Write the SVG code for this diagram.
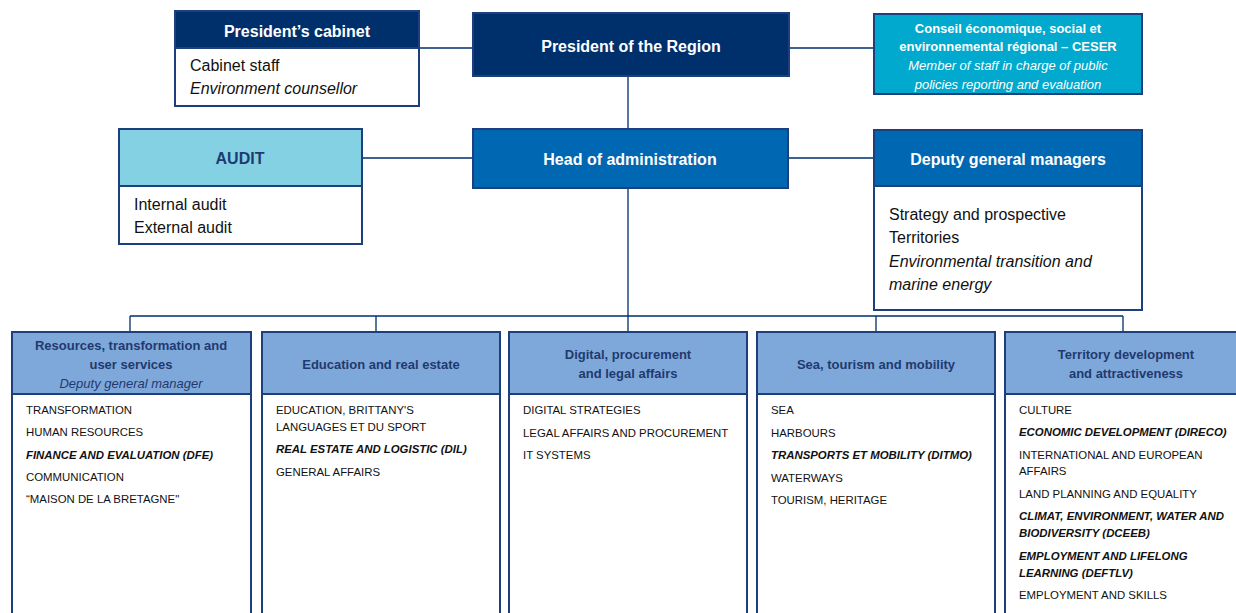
<svg xmlns="http://www.w3.org/2000/svg" width="1236" height="613" viewBox="0 0 1236 613">
<style>
text{font-family:"Liberation Sans",Arial,sans-serif}
.box{fill:#fff;stroke:#1d3f7c;stroke-width:2}
.hNavy{fill:#00306c;stroke:#1d3f7c;stroke-width:2}
.hBlue{fill:#0067b2;stroke:#1d3f7c;stroke-width:2}
.hAudit{fill:#84d1e4;stroke:#1d3f7c;stroke-width:2}
.hCeser{fill:#00a9cd;stroke:#1d3f7c;stroke-width:2}
.hDir{fill:#7fa8da;stroke:#1d3f7c;stroke-width:2}
.tW{fill:#fff;font-weight:bold;font-size:16px;text-anchor:middle}
.tNav{fill:#1f3a6e;font-weight:bold;font-size:16px;text-anchor:middle}
.tc{fill:#fff;font-size:13px;text-anchor:middle}
.b{font-weight:bold}
.i{font-style:italic}
.body{fill:#111;font-size:16px}
.dh{fill:#1f3a6e;font-weight:bold;font-size:13px;text-anchor:middle}
.di{fill:#1f3a6e;font-style:italic;font-size:13px;text-anchor:middle}
.li{fill:#111;font-size:11.4px}
.lb{fill:#111;font-size:11.4px;font-weight:bold;font-style:italic}
.con{stroke:#00306c;stroke-width:1.3;fill:none}
</style>

<g id="connectors">
<path class="con" d="M419 48H473M789 48H874M628 76V129M362 158H473M788 158H874M628 188V316M130 316H1123M130 316V332M376 316V332M628 316V332M876 316V332M1123 316V332"/>
</g>

<g id="presidents-cabinet">
<rect class="box" x="175" y="11" width="244" height="95"/>
<rect class="hNavy" x="175" y="11" width="244" height="37"/>
<text class="tW" x="297" y="37">President’s cabinet</text>
<text class="body" x="190" y="71">Cabinet staff</text>
<text class="body i" x="190" y="94">Environment counsellor</text>
</g>

<g id="president-region">
<rect class="hNavy" x="473" y="13" width="316" height="63"/>
<text class="tW" x="631" y="52">President of the Region</text>
</g>

<g id="ceser">
<rect class="hCeser" x="874" y="14" width="268" height="80"/>
<text class="tc b" x="1008" y="33">Conseil économique, social et</text>
<text class="tc b" x="1008" y="51">environnemental régional – CESER</text>
<text class="tc i" x="1008" y="70">Member of staff in charge of public</text>
<text class="tc i" x="1008" y="89">policies reporting and evaluation</text>
</g>

<g id="audit">
<rect class="box" x="119" y="129" width="243" height="115"/>
<rect class="hAudit" x="119" y="129" width="243" height="57"/>
<text class="tNav" x="240" y="164">AUDIT</text>
<text class="body" x="134" y="210">Internal audit</text>
<text class="body" x="134" y="233">External audit</text>
</g>

<g id="head-admin">
<rect class="hBlue" x="473" y="129" width="315" height="59"/>
<text class="tW" x="630" y="165">Head of administration</text>
</g>

<g id="deputy-gm">
<rect class="box" x="874" y="130" width="268" height="180"/>
<rect class="hBlue" x="874" y="130" width="268" height="56"/>
<text class="tW" x="1008" y="165">Deputy general managers</text>
<text class="body" x="889" y="220">Strategy and prospective</text>
<text class="body" x="889" y="243">Territories</text>
<text class="body i" x="889" y="267">Environmental transition and</text>
<text class="body i" x="889" y="290">marine energy</text>
</g>

<g id="dir-resources">
<rect class="box" x="12" y="332" width="239" height="300"/>
<rect class="hDir" x="12" y="332" width="239" height="62"/>
<text class="dh" x="131" y="350">Resources, transformation and</text>
<text class="dh" x="131" y="369">user services</text>
<text class="di" x="131" y="388">Deputy general manager</text>
<text class="li" x="26" y="414">TRANSFORMATION</text>
<text class="li" x="26" y="436">HUMAN RESOURCES</text>
<text class="lb" x="26" y="459">FINANCE AND EVALUATION (DFE)</text>
<text class="li" x="26" y="481">COMMUNICATION</text>
<text class="li" x="26" y="503">“MAISON DE LA BRETAGNE"</text>
</g>

<g id="dir-education">
<rect class="box" x="262" y="332" width="238" height="300"/>
<rect class="hDir" x="262" y="332" width="238" height="62"/>
<text class="dh" x="381" y="369">Education and real estate</text>
<text class="li" x="276" y="414">EDUCATION, BRITTANY'S</text>
<text class="li" x="276" y="431">LANGUAGES ET DU SPORT</text>
<text class="lb" x="276" y="453">REAL ESTATE AND LOGISTIC (DIL)</text>
<text class="li" x="276" y="476">GENERAL AFFAIRS</text>
</g>

<g id="dir-digital">
<rect class="box" x="509" y="332" width="238" height="300"/>
<rect class="hDir" x="509" y="332" width="238" height="62"/>
<text class="dh" x="628" y="359">Digital, procurement</text>
<text class="dh" x="628" y="378">and legal affairs</text>
<text class="li" x="523" y="414">DIGITAL STRATEGIES</text>
<text class="li" x="523" y="437">LEGAL AFFAIRS AND PROCUREMENT</text>
<text class="li" x="523" y="459">IT SYSTEMS</text>
</g>

<g id="dir-sea">
<rect class="box" x="757" y="332" width="238" height="300"/>
<rect class="hDir" x="757" y="332" width="238" height="62"/>
<text class="dh" x="876" y="369">Sea, tourism and mobility</text>
<text class="li" x="771" y="414">SEA</text>
<text class="li" x="771" y="437">HARBOURS</text>
<text class="lb" x="771" y="459">TRANSPORTS ET MOBILITY (DITMO)</text>
<text class="li" x="771" y="482">WATERWAYS</text>
<text class="li" x="771" y="504">TOURISM, HERITAGE</text>
</g>

<g id="dir-territory">
<rect class="box" x="1005" y="332" width="238" height="300"/>
<rect class="hDir" x="1005" y="332" width="238" height="62"/>
<text class="dh" x="1126" y="359">Territory development</text>
<text class="dh" x="1126" y="378">and attractiveness</text>
<text class="li" x="1019" y="414">CULTURE</text>
<text class="lb" x="1019" y="436">ECONOMIC DEVELOPMENT (DIRECO)</text>
<text class="li" x="1019" y="459">INTERNATIONAL AND EUROPEAN</text>
<text class="li" x="1019" y="475">AFFAIRS</text>
<text class="li" x="1019" y="498">LAND PLANNING AND EQUALITY</text>
<text class="lb" x="1019" y="520">CLIMAT, ENVIRONMENT, WATER AND</text>
<text class="lb" x="1019" y="537">BIODIVERSITY (DCEEB)</text>
<text class="lb" x="1019" y="560">EMPLOYMENT AND LIFELONG</text>
<text class="lb" x="1019" y="577">LEARNING (DEFTLV)</text>
<text class="li" x="1019" y="599">EMPLOYMENT AND SKILLS</text>
</g>
</svg>
